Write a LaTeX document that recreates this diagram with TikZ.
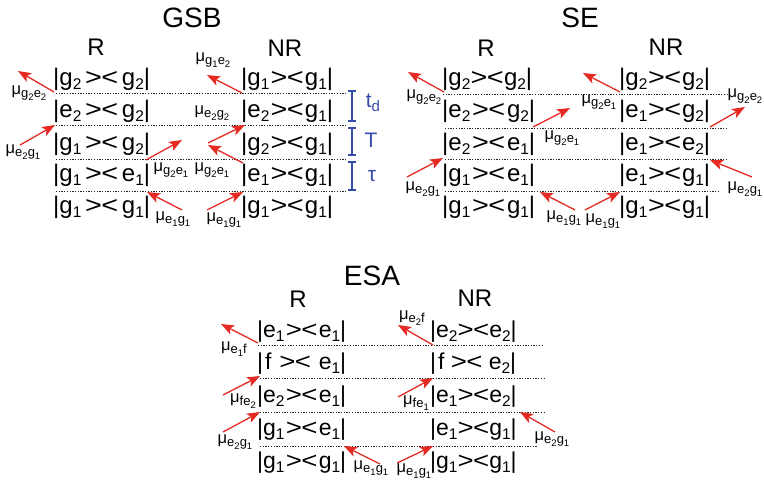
\documentclass[tikz,border=0pt]{standalone}
\usepackage{fontspec}
\usepackage{graphicx}
\setmainfont{Liberation Sans}
\usetikzlibrary{arrows.meta}
\definecolor{arrc}{RGB}{228,42,34}
\definecolor{brkc}{RGB}{55,75,170}
\newcommand\ls[1]{\raisebox{-4.5pt}{\fontsize{15.5}{15.5}\selectfont #1}}
\newcommand\dm[3]{\makebox[#1][s]{|#2\hfill\scalebox{1.2}[1]{>}\kern-0.5pt\scalebox{1.2}[1]{<}\hfill#3|}}
\newcommand\mlab[4]{μ\raisebox{-3.5pt}{\fontsize{13}{13}\selectfont #1\raisebox{-2.5pt}{\fontsize{9.5}{9.5}\selectfont #2}#3\raisebox{-2.5pt}{\fontsize{9.5}{9.5}\selectfont #4}}}
\newcommand\arrw[3]{\coordinate (#1t) at (#2); \coordinate (#1h) at (#3); \draw[arr] (#1t) -- (#1h);}
\begin{document}
\begin{tikzpicture}[x=1pt,y=-1pt,
  rowtext/.style={anchor=base west, inner sep=0pt, font=\fontsize{24}{24}\selectfont},
  rowsmall/.style={anchor=base west, inner sep=0pt, font=\fontsize{23}{23}\selectfont},
  titletext/.style={anchor=base, inner sep=0pt, font=\fontsize{28}{28}\selectfont},
  coltext/.style={anchor=base, inner sep=0pt, font=\fontsize{24}{24}\selectfont},
  mulab/.style={inner sep=0pt, font=\fontsize{16.5}{16.5}\selectfont},
  sepline/.style={draw=black!85, line width=1pt, dash pattern=on 1.3pt off 1.4pt},
  arr/.style={draw=arrc, line width=1.3pt, -{Stealth[length=13pt,width=10pt,inset=3pt]}},
  brk/.style={draw=brkc, line width=1.2pt},
  brklab/.style={inner sep=0pt, text=brkc, font=\fontsize{21}{21}\selectfont}]
\useasboundingbox (0,0) rectangle (764,482);

% ================= GSB =================
\node[titletext] (gsbt) at (192,27) {GSB};
\node[coltext] (gsbR) at (96,55) {R};
\node[coltext] (gsbNR) at (285,56) {NR};
\foreach \y in {93,125,159,191} \draw[sepline] (56,\y) -- (346,\y);
\node[rowtext] (gr1) at (53,85)  {\dm{97pt}{g\ls2}{g\ls2}};
\node[rowtext] (gr2) at (53,117) {\dm{97pt}{e\ls2}{g\ls2}};
\node[rowtext] (gr3) at (53,150) {\dm{97pt}{g\ls1}{g\ls2}};
\node[rowtext] (gr4) at (53,181) {\dm{97pt}{g\ls1}{e\ls1}};
\node[rowtext] (gr5) at (53,213) {\dm{97pt}{g\ls1}{g\ls1}};
\node[rowtext] (gn1) at (241,85)  {\dm{92pt}{g\ls1}{g\ls1}};
\node[rowtext] (gn2) at (241,117) {\dm{92pt}{e\ls2}{g\ls1}};
\node[rowtext] (gn3) at (241,150) {\dm{92pt}{g\ls2}{g\ls1}};
\node[rowtext] (gn4) at (241,181) {\dm{92pt}{e\ls1}{g\ls1}};
\node[rowtext] (gn5) at (241,213) {\dm{92pt}{g\ls1}{g\ls1}};
% brackets
\draw[brk] (348,91) -- (356,91) (352,91) -- (352,121) (348,121) -- (356,121);
\draw[brk] (348,128) -- (356,128) (352,128) -- (352,155) (348,155) -- (356,155);
\draw[brk] (348,162) -- (356,162) (352,162) -- (352,190) (348,190) -- (356,190);
\node[brklab] (btd) at (373,103) {t\raisebox{-4pt}{\fontsize{15}{15}\selectfont d}};
\node[brklab] (bT) at (371,140) {T};
\node[brklab] (btau) at (372,176) {τ};
% arrows
\arrw{a1}{54,92}{18,71}
\node[mulab] (la1) at (29,93) {\mlab{g}{2}{e}{2}};
\arrw{a2}{242,93}{207,75}
\node[mulab] (la2) at (213,60) {\mlab{g}{1}{e}{2}};
\arrw{a3}{20,145}{55,125}
\node[mulab] (la3) at (23,152) {\mlab{e}{2}{g}{1}};
\arrw{a4}{146,160}{182,140}
\node[mulab] (la4) at (171,170) {\mlab{g}{2}{e}{1}};
\arrw{a5}{208,143}{245,125}
\node[mulab] (la5) at (212,113) {\mlab{e}{2}{g}{2}};
\arrw{a6}{243,163}{208,145}
\node[mulab] (la6) at (212,170) {\mlab{g}{2}{e}{1}};
\arrw{a7}{182,210}{147,192}
\node[mulab] (la7) at (173,219) {\mlab{e}{1}{g}{1}};
\arrw{a8}{207,210}{243,192}
\node[mulab] (la8) at (224,220) {\mlab{e}{1}{g}{1}};

% ================= SE =================
\node[titletext] (set) at (580,27) {SE};
\node[coltext] (seR) at (486,56) {R};
\node[coltext] (seNR) at (666,55) {NR};
\draw[sepline] (443,94) -- (727,94);
\draw[sepline] (445,128) -- (727,128);
\draw[sepline] (445,159) -- (727,159);
\draw[sepline] (445,191) -- (718,191);
\node[rowtext] (sr1) at (442,85)  {\dm{90pt}{g\ls2}{g\ls2}};
\node[rowtext] (sr2) at (442,117) {\dm{93pt}{e\ls2}{g\ls2}};
\node[rowtext] (sr3) at (442,150) {\dm{93pt}{e\ls2}{e\ls1}};
\node[rowtext] (sr4) at (442,181) {\dm{93pt}{g\ls1}{e\ls1}};
\node[rowtext] (sr5) at (442,213) {\dm{93pt}{g\ls1}{g\ls1}};
\node[rowtext] (sn1) at (619,85)  {\dm{91pt}{g\ls2}{g\ls2}};
\node[rowtext] (sn2) at (619,117) {\dm{91pt}{e\ls1}{g\ls2}};
\node[rowtext] (sn3) at (619,150) {\dm{91pt}{e\ls1}{e\ls2}};
\node[rowtext] (sn4) at (619,181) {\dm{91pt}{e\ls1}{g\ls1}};
\node[rowtext] (sn5) at (619,213) {\dm{91pt}{g\ls1}{g\ls1}};
\arrw{b1}{444,92}{408,72}
\node[mulab] (lb1) at (424,97) {\mlab{g}{2}{e}{2}};
\arrw{b2}{620,92}{583,73}
\node[mulab] (lb2) at (599,102) {\mlab{g}{2}{e}{1}};
\arrw{b3}{533,127}{570,108}
\node[mulab] (lb3) at (562,138) {\mlab{g}{2}{e}{1}};
\arrw{b4}{710,127}{745,107}
\node[mulab] (lb4) at (745,96) {\mlab{g}{2}{e}{2}};
\arrw{b5}{407,177}{443,158}
\node[mulab] (lb5) at (423,189) {\mlab{e}{2}{g}{1}};
\arrw{b6}{575,210}{540,192}
\node[mulab] (lb6) at (564,218) {\mlab{e}{1}{g}{1}};
\arrw{b7}{585,210}{620,192}
\node[mulab] (lb7) at (603,221) {\mlab{e}{1}{g}{1}};
\arrw{b8}{752,177}{710,160}
\node[mulab] (lb8) at (745,189) {\mlab{e}{2}{g}{1}};

% ================= ESA =================
\node[titletext] (esat) at (372,285) {ESA};
\node[coltext] (esR) at (298,307) {R};
\node[coltext] (esNR) at (475,306) {NR};
\draw[sepline] (258,345) -- (543,345);
\draw[sepline] (260,378) -- (545,378);
\draw[sepline] (260,412) -- (545,412);
\draw[sepline] (260,446) -- (537,446);
\node[rowsmall] (er1) at (257,337) {\dm{89pt}{e\ls1}{e\ls1}};
\node[rowsmall] (er2) at (257,369) {\dm{89pt}{\kern2pt f}{e\ls1}};
\node[rowsmall] (er3) at (257,402) {\dm{89pt}{e\ls2}{e\ls1}};
\node[rowsmall] (er4) at (257,435) {\dm{89pt}{g\ls1}{e\ls1}};
\node[rowsmall] (er5) at (257,468) {\dm{89pt}{g\ls1}{g\ls1}};
\node[rowsmall] (en1) at (430,337) {\dm{86pt}{e\ls2}{e\ls2}};
\node[rowsmall] (en2) at (430,369) {\dm{86pt}{\kern2pt f}{e\ls2}};
\node[rowsmall] (en3) at (430,402) {\dm{86pt}{e\ls1}{e\ls2}};
\node[rowsmall] (en4) at (430,435) {\dm{86pt}{e\ls1}{g\ls1}};
\node[rowsmall] (en5) at (430,468) {\dm{86pt}{g\ls1}{g\ls1}};
\arrw{c1}{258,343}{221,324}
\node[mulab] (lc1) at (234,349) {\mlab{e}{1}{f}{}};
\arrw{c2}{433,345}{398,325}
\node[mulab] (lc2) at (412,318) {\mlab{e}{2}{f}{}};
\arrw{c3}{223,395}{260,376}
\node[mulab] (lc3) at (243,401) {\mlab{f}{}{e}{2}};
\arrw{c4}{398,397}{433,378}
\node[mulab] (lc4) at (416,403) {\mlab{f}{}{e}{1}};
\arrw{c5}{223,432}{260,412}
\node[mulab] (lc5) at (235,442) {\mlab{e}{2}{g}{1}};
\arrw{c6}{380,464}{344,446}
\node[mulab] (lc6) at (371,468) {\mlab{e}{1}{g}{1}};
\arrw{c7}{397,463}{433,446}
\node[mulab] (lc7) at (414,471) {\mlab{e}{1}{g}{1}};
\arrw{c8}{555,432}{520,412}
\node[mulab] (lc8) at (552,439) {\mlab{e}{2}{g}{1}};
\end{tikzpicture}
\end{document}
